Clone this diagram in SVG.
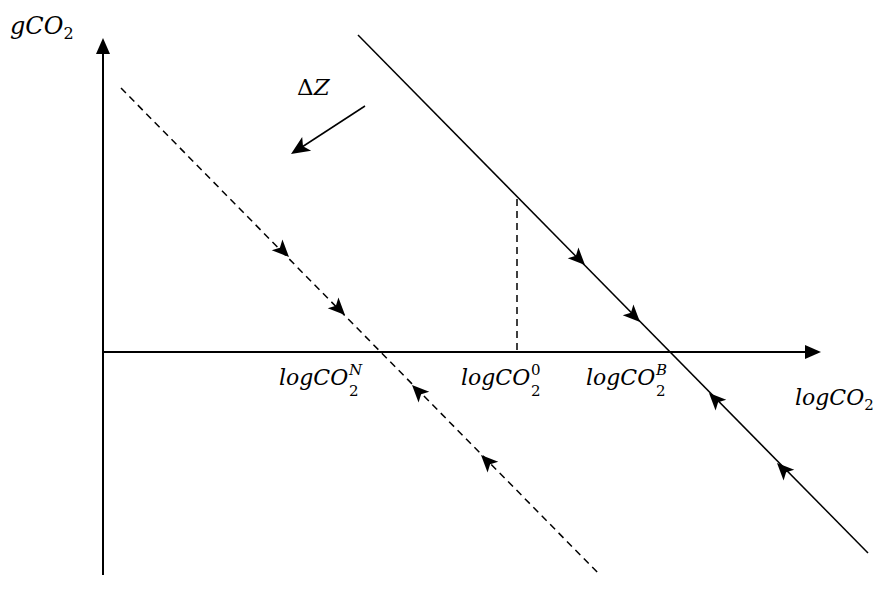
<svg xmlns="http://www.w3.org/2000/svg" xmlns:xlink="http://www.w3.org/1999/xlink" width="877" height="603" viewBox="0 0 877 603">
<style>
  .ax { stroke:#000; stroke-width:2; fill:none; }
  .ln { stroke:#000; stroke-width:1.5; fill:none; }
  .dash { stroke:#000; stroke-width:1.5; fill:none; stroke-dasharray:7 5; }
  .t { font-family:"DejaVu Serif", "Liberation Serif", serif; font-style:italic; font-size:22px; fill:#000; }
  .s { font-size:15px; }
</style>
<defs>
  <polygon id="ah" points="0,0 -17,-7.5 -13,0 -17,7.5" fill="#000"/>
  <polygon id="axh" points="0,0 -16,-7 -16,7" fill="#000"/>
</defs>
<g id="axes">
  <line class="ax" x1="103" y1="575" x2="103" y2="50"/>
  <use xlink:href="#axh" href="#axh" transform="translate(103,38) rotate(-90)"/>
  <line class="ax" x1="103" y1="352" x2="810" y2="352"/>
  <use xlink:href="#axh" href="#axh" transform="translate(821,352)"/>
</g>
<g id="connectors">
  <line class="ln" x1="358" y1="35" x2="868" y2="553"/>
  <line class="dash" x1="121" y1="88" x2="600" y2="575"/>
  <line class="dash" x1="517" y1="199" x2="517" y2="352"/>
  <line class="ln" x1="365" y1="106" x2="302" y2="147"/>
  <use xlink:href="#ah" href="#ah" transform="translate(291,154) rotate(147) scale(1.1)"/>
  <use xlink:href="#ah" href="#ah" transform="translate(585,265) rotate(45.5)"/>
  <use xlink:href="#ah" href="#ah" transform="translate(640,322) rotate(45.5)"/>
  <use xlink:href="#ah" href="#ah" transform="translate(709,393) rotate(225.5)"/>
  <use xlink:href="#ah" href="#ah" transform="translate(777,463) rotate(225.5)"/>
  <use xlink:href="#ah" href="#ah" transform="translate(289,257) rotate(45.5)"/>
  <use xlink:href="#ah" href="#ah" transform="translate(345,315) rotate(45.5)"/>
  <use xlink:href="#ah" href="#ah" transform="translate(412,385) rotate(225.5)"/>
  <use xlink:href="#ah" href="#ah" transform="translate(481,455) rotate(225.5)"/>
</g>
<g id="labels">
  <text class="t" x="10" y="34" style="font-size:24px">gCO<tspan class="s" dy="5" style="font-style:normal;font-size:16px">2</tspan></text>
  <text class="t" x="297" y="95" style="font-size:23px"><tspan style="font-style:normal">Δ</tspan>Z</text>
  <text class="t" x="279" y="385">logCO</text>
  <text class="t s" x="349" y="396" style="font-style:normal">2</text>
  <text class="t s" x="349" y="375">N</text>
  <text class="t" x="461" y="385">logCO</text>
  <text class="t s" x="531" y="396" style="font-style:normal">2</text>
  <text class="t s" x="531" y="375" style="font-style:normal">0</text>
  <text class="t" x="586" y="385">logCO</text>
  <text class="t s" x="656" y="396" style="font-style:normal">2</text>
  <text class="t s" x="656" y="375">B</text>
  <text class="t" x="795" y="405">logCO<tspan class="s" dy="5" style="font-style:normal">2</tspan></text>
</g>
</svg>
